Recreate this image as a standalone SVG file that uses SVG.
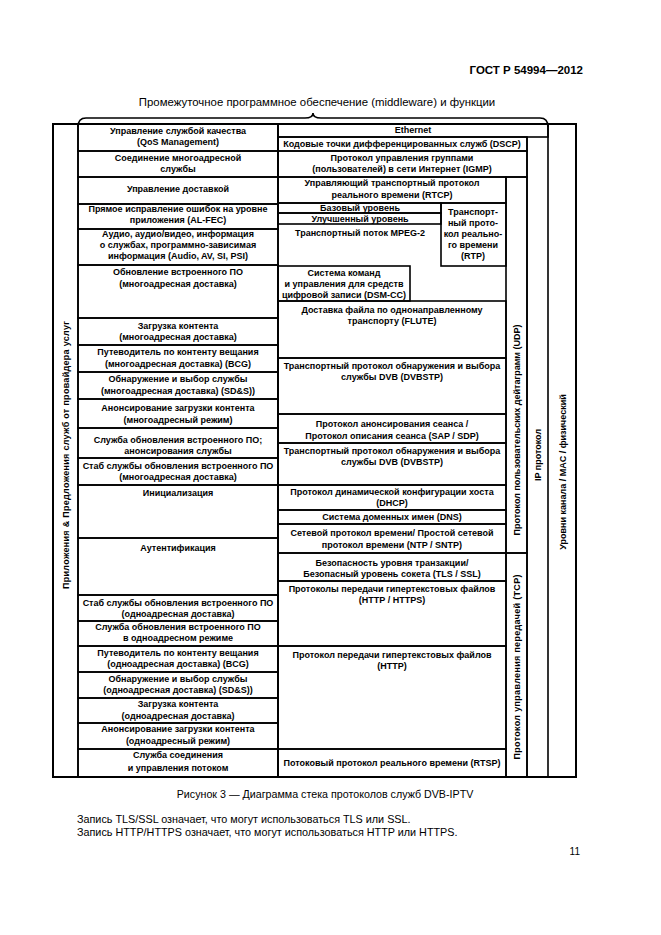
<svg xmlns="http://www.w3.org/2000/svg" width="661" height="935" viewBox="0 0 661 935">
<style>
.c{fill:none;stroke:#000;stroke-width:1.6}
.o{fill:none;stroke:#000;stroke-width:2}
text{font-family:"Liberation Sans",Arial,sans-serif;font-size:9px;font-weight:bold;fill:#000;text-anchor:middle}
.n{font-weight:normal}
</style>
<rect width="661" height="935" fill="#fff"/>
<text x="583" y="74" style="font-size:11.5px;text-anchor:end">ГОСТ Р 54994—2012</text>
<text x="317" y="106" class="n" style="font-size:11.4px">Промежуточное программное обеспечение (middleware) и функции</text>
<g id="connectors">
<path class="c" d="M78,127 Q78,118 86,118 L305,118 Q313,118 313,113 Q313,118 321,118 L540,118 Q548,118 548,127"/>
</g>
<g id="frame">
<rect class="o" x="53" y="124" width="523" height="653"/>
<line class="c" x1="78" y1="124" x2="78" y2="777"/>
<line class="c" x1="278" y1="124" x2="278" y2="777"/>
<line class="c" x1="548" y1="124" x2="548" y2="777"/>
<line class="c" x1="527" y1="137" x2="527" y2="777"/>
</g>
<g id="apps"><text transform="translate(69,455) rotate(-90)" textLength="268">Приложения  &amp;  Предложения  служб  от  провайдера  услуг</text></g>
<g id="l1"><rect class="c" x="78" y="124" width="200" height="27"/><text x="178" y="134">Управление службой качества</text><text x="178" y="145">(QoS Management)</text></g>
<g id="l2"><rect class="c" x="78" y="151" width="200" height="26"/><text x="178" y="161">Соединение многоадресной</text><text x="178" y="172">службы</text></g>
<g id="l3"><rect class="c" x="78" y="177" width="200" height="27"/><text x="178" y="192">Управление доставкой</text></g>
<g id="l4"><rect class="c" x="78" y="204" width="200" height="25"/><text x="178" y="212">Прямое исправление ошибок на уровне</text><text x="178" y="223">приложения (AL-FEC)</text></g>
<g id="l5"><rect class="c" x="78" y="229" width="200" height="36"/><text x="178" y="237">Аудио, аудио/видео, информация</text><text x="178" y="248">о службах, программно-зависимая</text><text x="178" y="259">информация (Audio, AV, SI, PSI)</text></g>
<g id="l6"><rect class="c" x="78" y="265" width="200" height="53"/><text x="178" y="275">Обновление встроенного ПО</text><text x="178" y="287">(многоадресная доставка)</text></g>
<g id="l7"><rect class="c" x="78" y="318" width="200" height="27"/><text x="178" y="329">Загрузка контента</text><text x="178" y="340">(многоадресная доставка)</text></g>
<g id="l8"><rect class="c" x="78" y="345" width="200" height="27"/><text x="178" y="355">Путеводитель по контенту вещания</text><text x="178" y="367">(многоадресная доставка) (BCG)</text></g>
<g id="l9"><rect class="c" x="78" y="372" width="200" height="27"/><text x="178" y="382">Обнаружение и выбор службы</text><text x="178" y="394">(многоадресная доставка) (SD&amp;S))</text></g>
<g id="l10"><rect class="c" x="78" y="399" width="200" height="29"/><text x="178" y="411">Анонсирование загрузки контента</text><text x="178" y="423">(многоадресный режим)</text></g>
<g id="l11"><rect class="c" x="78" y="428" width="200" height="30"/><text x="178" y="443">Служба обновления встроенного ПО;</text><text x="178" y="454">анонсирования службы</text></g>
<g id="l12"><rect class="c" x="78" y="458" width="200" height="27"/><text x="178" y="469">Стаб службы обновления встроенного ПО</text><text x="178" y="480">(многоадресная доставка)</text></g>
<g id="l13"><rect class="c" x="78" y="485" width="200" height="53"/><text x="178" y="496">Инициализация</text></g>
<g id="l14"><rect class="c" x="78" y="538" width="200" height="57"/><text x="178" y="551">Аутентификация</text></g>
<g id="l15"><rect class="c" x="78" y="595" width="200" height="26"/><text x="178" y="606">Стаб службы обновления встроенного ПО</text><text x="178" y="617">(одноадресная доставка)</text></g>
<g id="l16"><rect class="c" x="78" y="621" width="200" height="25"/><text x="178" y="630">Служба обновления встроенного ПО</text><text x="178" y="641">в одноадресном режиме</text></g>
<g id="l17"><rect class="c" x="78" y="646" width="200" height="26"/><text x="178" y="656">Путеводитель по контенту вещания</text><text x="178" y="667">(одноадресная доставка) (BCG)</text></g>
<g id="l18"><rect class="c" x="78" y="672" width="200" height="26"/><text x="178" y="682">Обнаружение и выбор службы</text><text x="178" y="693">(одноадресная доставка) (SD&amp;S))</text></g>
<g id="l19"><rect class="c" x="78" y="698" width="200" height="25"/><text x="178" y="707">Загрузка контента</text><text x="178" y="719">(одноадресная доставка)</text></g>
<g id="l20"><rect class="c" x="78" y="723" width="200" height="26"/><text x="178" y="732">Анонсирование загрузки контента</text><text x="178" y="744">(одноадресный режим)</text></g>
<g id="l21"><rect class="c" x="78" y="749" width="200" height="28"/><text x="178" y="758">Служба соединения</text><text x="178" y="771">и управления потоком</text></g>
<g id="ethernet"><rect class="c" x="278" y="124" width="270" height="13"/><text x="413" y="133">Ethernet</text></g>
<g id="dscp"><rect class="c" x="278" y="137" width="249" height="14"/><text x="402" y="147">Кодовые точки дифференцированных служб (DSCP)</text></g>
<g id="igmp"><rect class="c" x="278" y="151" width="249" height="26"/><text x="402" y="161">Протокол управления группами</text><text x="402" y="172">(пользователей) в сети Интернет (IGMP)</text></g>
<g id="rtcp"><rect class="c" x="278" y="177" width="228" height="26"/><text x="392" y="186">Управляющий транспортный протокол</text><text x="392" y="198">реального времени (RTCP)</text></g>
<g id="base"><rect class="c" x="278" y="203" width="163" height="10"/><text x="360" y="211">Базовый уровень</text></g>
<g id="enh"><rect class="c" x="278" y="213" width="163" height="11"/><text x="360" y="222">Улучшенный уровень</text></g>
<g id="mpeg2"><text x="360" y="236">Транспортный поток MPEG-2</text></g>
<g id="rtp"><rect class="c" x="441" y="203" width="65" height="63"/><text x="473" y="215">Транспорт-</text><text x="473" y="226">ный прото-</text><text x="473" y="237">кол реально-</text><text x="473" y="248">го времени</text><text x="473" y="259">(RTP)</text></g>
<g id="dsmcc"><rect class="c" x="278" y="266" width="132" height="35"/><text x="344" y="276">Система команд</text><text x="344" y="287">и управления для средств</text><text x="344" y="298">цифровой записи (DSM-CC)</text></g>
<g id="flute"><rect class="c" x="278" y="301" width="228" height="57"/><text x="392" y="313">Доставка файла по однонаправленному</text><text x="392" y="324">транспорту (FLUTE)</text></g>
<g id="dvbstp1"><rect class="c" x="278" y="358" width="228" height="56"/><text x="392" y="369">Транспортный протокол обнаружения и выбора</text><text x="392" y="380">службы DVB (DVBSTP)</text></g>
<g id="sap"><rect class="c" x="278" y="414" width="228" height="29"/><text x="392" y="427">Протокол анонсирования сеанса /</text><text x="392" y="439">Протокол описания сеанса (SAP / SDP)</text></g>
<g id="dvbstp2"><rect class="c" x="278" y="443" width="228" height="42"/><text x="392" y="454">Транспортный протокол обнаружения и выбора</text><text x="392" y="465">службы DVB (DVBSTP)</text></g>
<g id="dhcp"><rect class="c" x="278" y="485" width="228" height="25"/><text x="392" y="495">Протокол динамической конфигурации хоста</text><text x="392" y="506">(DHCP)</text></g>
<g id="dns"><rect class="c" x="278" y="510" width="228" height="14"/><text x="392" y="520">Система доменных имен (DNS)</text></g>
<g id="ntp"><rect class="c" x="278" y="524" width="228" height="29"/><text x="392" y="536">Сетевой протокол времени/ Простой сетевой</text><text x="392" y="548">протокол времени (NTP / SNTP)</text></g>
<g id="tls"><rect class="c" x="278" y="553" width="228" height="28"/><text x="392" y="566">Безопасность уровня транзакции/</text><text x="392" y="577">Безопасный уровень сокета (TLS / SSL)</text></g>
<g id="https"><rect class="c" x="278" y="581" width="228" height="65"/><text x="392" y="592">Протоколы передачи гипертекстовых файлов</text><text x="392" y="603">(HTTP / HTTPS)</text></g>
<g id="http"><rect class="c" x="278" y="646" width="228" height="103"/><text x="392" y="658">Протокол передачи гипертекстовых файлов</text><text x="392" y="669">(HTTP)</text></g>
<g id="rtsp"><rect class="c" x="278" y="749" width="228" height="28"/><text x="392" y="766">Потоковый протокол реального времени (RTSP)</text></g>
<g id="udp"><rect class="c" x="506" y="177" width="21" height="376"/><text transform="translate(520,430) rotate(-90)">Протокол пользовательских дейтаграмм (UDP)</text></g>
<g id="tcp"><rect class="c" x="506" y="553" width="21" height="224"/><text transform="translate(520,667) rotate(-90)" textLength="185">Протокол управления передачей (TCP)</text></g>
<g id="ip"><text transform="translate(541,455) rotate(-90)">IP протокол</text></g>
<g id="link"><text transform="translate(566,472) rotate(-90)">Уровни канала / MAC / физический</text></g>
<text x="325" y="798" class="n" style="font-size:10.7px">Рисунок 3 — Диаграмма стека протоколов служб DVB-IPTV</text>
<text x="77" y="823" class="n" style="font-size:10.8px;text-anchor:start">Запись TLS/SSL означает, что могут использоваться TLS или SSL.</text>
<text x="77" y="836" class="n" style="font-size:10.8px;text-anchor:start">Запись HTTP/HTTPS означает, что могут использоваться HTTP или HTTPS.</text>
<text x="580" y="855" class="n" style="font-size:10px;text-anchor:end">11</text>
</svg>
